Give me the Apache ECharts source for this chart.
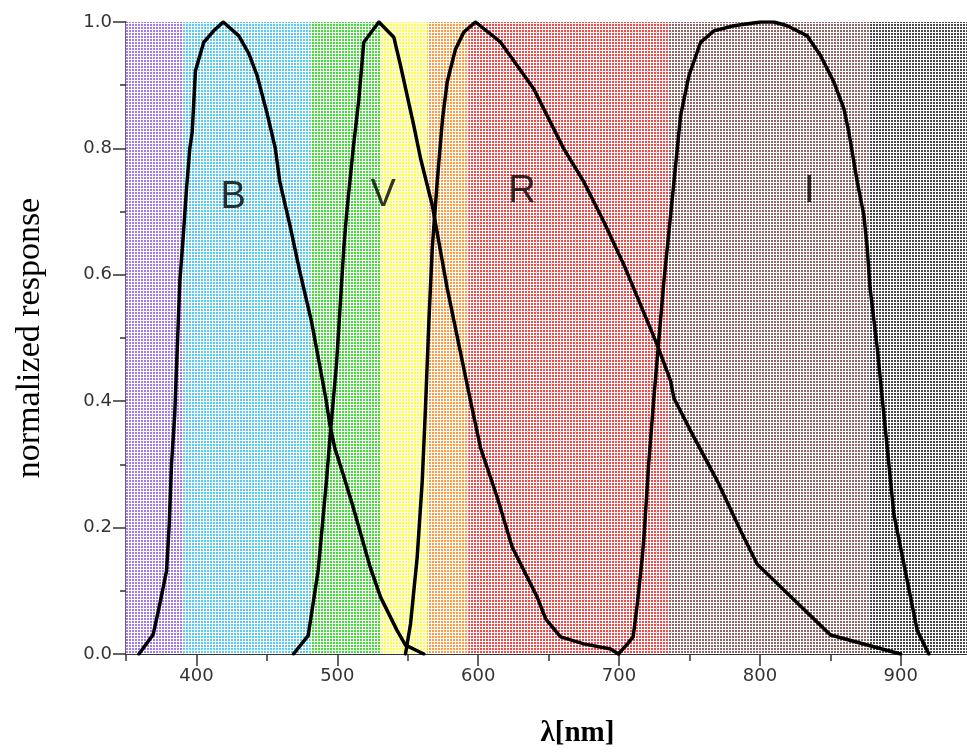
<!DOCTYPE html>
<html>
<head>
<meta charset="utf-8">
<script src="https://cdn.jsdelivr.net/npm/echarts@6/dist/echarts.min.js"></script>
<style>
  html, body { margin: 0; padding: 0; background: #fff; }
  #chart { width: 967px; height: 753px; }
</style>
</head>
<body>
<div id="chart"></div>
<script>
// ---- data ----
const xMajorTicks = [400, 500, 600, 700, 800, 900];
const xMinorTicks = [350, 450, 550, 650, 750, 850];
const yTickLabels = [0, 0.2, 0.4, 0.6, 0.8, 1.0];

// colour band edges (nm)
const bandEdges = [350, 391, 481, 531, 564, 593, 735, 877, 950];

const curveB = [[359.2,0],[369.3,0.031],[374,0.079],[378.8,0.132],[380.7,0.206],[382.3,0.30],[384.6,0.379],[388.2,0.589],[390.6,0.66],[393,0.737],[395.3,0.80],[397,0.826],[399.3,0.923],[405.2,0.968],[412.3,0.986],[419,1.0],[430.1,0.978],[437.2,0.95],[443.1,0.915],[450.2,0.855],[456,0.80],[459.2,0.747],[466.3,0.679],[473.4,0.605],[481.7,0.526],[491.8,0.405],[494.7,0.363],[498.2,0.326],[504.2,0.284],[511.3,0.232],[516,0.195],[523.4,0.137],[530.7,0.09],[542.5,0.037],[548.4,0.014],[561.4,0]];
const curveV = [[468.9,0],[479.3,0.029],[486.4,0.132],[492.3,0.274],[495.2,0.353],[499.4,0.458],[504.6,0.642],[506.5,0.694],[511.3,0.80],[515.3,0.878],[518.8,0.968],[529.5,1.0],[540.1,0.976],[544.9,0.931],[554.3,0.836],[559.1,0.784],[567.4,0.71],[578,0.579],[594.6,0.40],[601.7,0.326],[613.5,0.248],[624.2,0.169],[641.9,0.09],[648,0.055],[658.5,0.027],[675,0.016],[694,0.008],[699.6,0]];
const curveR = [[548.4,0],[552,0.048],[556.7,0.153],[560.3,0.274],[562.6,0.39],[565,0.526],[567.4,0.642],[570.9,0.747],[574.7,0.847],[578,0.905],[583.9,0.957],[589.8,0.984],[598.1,1.0],[615.9,0.968],[639.5,0.894],[660.6,0.80],[675,0.747],[689.2,0.684],[703.4,0.616],[727.1,0.489],[736.6,0.432],[738.9,0.405],[750.8,0.353],[769.7,0.274],[786.3,0.195],[798.1,0.142],[850.1,0.03],[899.8,0]];
const curveI = [[699.5,0],[706,0.016],[710,0.027],[713,0.08],[716.5,0.153],[718,0.195],[721,0.30],[724.7,0.405],[731.8,0.589],[737.8,0.721],[743.7,0.852],[749.6,0.915],[757.9,0.968],[767.3,0.986],[781.5,0.994],[800.4,1.0],[809.9,1.0],[819.4,0.994],[833.6,0.978],[843,0.947],[852.5,0.905],[859.6,0.863],[863.1,0.826],[869.1,0.747],[873.8,0.694],[876.2,0.642],[878.2,0.579],[883.3,0.484],[886.8,0.405],[890.4,0.326],[895.1,0.221],[899.8,0.169],[906.9,0.09],[911.7,0.037],[919.9,0]];

const filterNames = ['B', 'V', 'R', 'I'];
const filterLabelX = [426, 532.5, 631, 835];
const filterLabelY = [0.722, 0.726, 0.732, 0.732];

// ---- styles ----
const bandDotColors = ['#a37aed', '#56cbf4', '#40dd34', '#ffff40', '#ff9a40', '#f44848', '#8e6464', '#484848'];

function makePattern(color) {
  const c = document.createElement('canvas');
  c.width = 3; c.height = 3;
  const ctx = c.getContext('2d');
  ctx.fillStyle = '#ffffff';
  ctx.fillRect(0, 0, 3, 3);
  ctx.fillStyle = color;
  ctx.fillRect(0, 0, 2, 2);
  return { image: c, repeat: 'repeat' };
}

const bandAreas = [];
for (let i = 0; i < bandEdges.length - 1; i++) {
  bandAreas.push([
    { xAxis: bandEdges[i], itemStyle: { color: makePattern(bandDotColors[i]), opacity: 1, borderWidth: 0 } },
    { xAxis: bandEdges[i + 1] }
  ]);
}

const axisColor = '#333';
const tickFont = { fontFamily: 'DejaVu Sans', fontSize: 18, color: '#333' };

function curveSeries(name, data) {
  return {
    name: name, type: 'line', data: data, z: 3,
    showSymbol: false, symbol: 'none', smooth: false,
    lineStyle: { color: '#000', width: 3.5, join: 'round', cap: 'round' },
    silent: true
  };
}

const chart = echarts.init(document.getElementById('chart'), null, { renderer: 'canvas' });
chart.setOption({
  animation: false,
  backgroundColor: '#fff',
  grid: { left: 126, right: 0, top: 22, bottom: 96, containLabel: false },
  xAxis: [
    {
      type: 'value', min: 350, max: 947, position: 'bottom',
      axisLine: { show: true, lineStyle: { color: axisColor, width: 2 } },
      axisTick: { show: true, customValues: xMajorTicks, length: 12, lineStyle: { color: axisColor, width: 1.5 } },
      axisLabel: Object.assign({ customValues: xMajorTicks, margin: 13 }, tickFont),
      splitLine: { show: false },
      name: 'λ[nm]', nameLocation: 'middle', nameGap: 65,
      nameTextStyle: { fontFamily: 'Liberation Serif', fontWeight: 'bold', fontSize: 29, color: '#000', padding: [0, 0, 0, 62] }
    },
    {
      type: 'value', min: 350, max: 947, position: 'bottom', offset: 0,
      axisLine: { show: false },
      axisTick: { show: true, customValues: xMinorTicks, length: 7, lineStyle: { color: axisColor, width: 1.5 } },
      axisLabel: { show: false },
      splitLine: { show: false }
    }
  ],
  yAxis: {
    type: 'value', min: 0, max: 1, interval: 0.2,
    axisLine: { show: true, lineStyle: { color: axisColor, width: 1.5 } },
    axisTick: { show: true, length: 13, lineStyle: { color: axisColor, width: 1.5 } },
    minorTick: { show: true, splitNumber: 2, length: 6, lineStyle: { color: axisColor, width: 1.5 } },
    axisLabel: Object.assign({ customValues: yTickLabels, margin: 14, formatter: v => v.toFixed(1) }, tickFont),
    splitLine: { show: false }, minorSplitLine: { show: false },
    name: 'normalized response', nameLocation: 'middle', nameRotate: 90, nameGap: 79,
    nameTextStyle: { fontFamily: 'Liberation Serif', fontSize: 34, color: '#000' }
  },
  series: [
    {
      type: 'line', data: [], z: 1, silent: true,
      markArea: { silent: true, z: 1, data: bandAreas, label: { show: false } }
    },
    curveSeries('B', curveB),
    curveSeries('V', curveV),
    curveSeries('R', curveR),
    curveSeries('I', curveI),
    {
      type: 'scatter', z: 4, silent: true, symbolSize: 0,
      data: filterNames.map((n, i) => ({ name: n, value: [filterLabelX[i], filterLabelY[i]] })),
      label: { show: true, position: 'inside', formatter: '{b}', fontFamily: 'Liberation Sans', fontSize: 38, color: '#000' }
    }
  ]
});
</script>
</body>
</html>
